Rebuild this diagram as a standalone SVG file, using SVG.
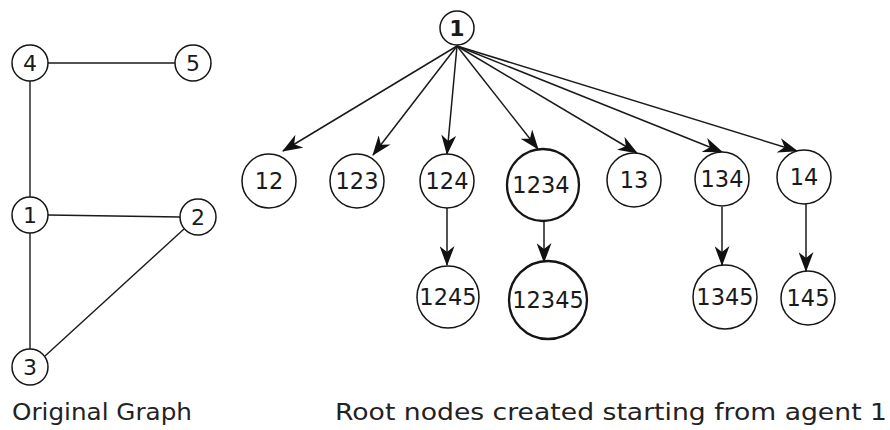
<svg xmlns="http://www.w3.org/2000/svg" width="890" height="430" viewBox="0 0 890 430">
  <style>
    .node circle { fill: #ffffff; stroke: #151515; stroke-width: 1.5; }
    .node.big circle { stroke-width: 2.3; }
    .node text { font-family: "DejaVu Sans", "Liberation Sans", sans-serif; font-size: 22.5px; fill: #1a1a1a; text-anchor: middle; }
    .node.small text { font-size: 22px; }
    .edge { stroke: #1a1a1a; stroke-width: 1.4; fill: none; }
    .arrow { stroke: #1a1a1a; stroke-width: 1.5; fill: none; marker-end: url(#dart); }
    .caption { font-family: "DejaVu Sans", "Liberation Sans", sans-serif; font-size: 22.5px; fill: #222222; }
  </style>
  <defs>
    <marker id="dart" viewBox="0 0 20 15" refX="19" refY="7.5" markerWidth="20" markerHeight="15" markerUnits="userSpaceOnUse" orient="auto">
      <path d="M0,0 L20,7.5 L0,15 L6,7.5 Z" fill="#111111"/>
    </marker>
  </defs>
  <rect width="890" height="430" fill="#ffffff"/>

  <!-- Original graph: undirected edges -->
  <g id="graph-edges">
    <line class="edge" x1="48" y1="63" x2="175" y2="63"/>
    <line class="edge" x1="30" y1="81" x2="30" y2="197"/>
    <line class="edge" x1="48" y1="215" x2="180" y2="217"/>
    <line class="edge" x1="30" y1="233" x2="30" y2="349"/>
    <line class="edge" x1="184" y1="229" x2="45" y2="356"/>
  </g>
  <g id="g4" class="node small"><circle cx="30" cy="63" r="18"/><text x="30" y="71">4</text></g>
  <g id="g5" class="node small"><circle cx="193" cy="63" r="18"/><text x="193" y="71">5</text></g>
  <g id="g1" class="node small"><circle cx="30" cy="215" r="18"/><text x="30" y="223">1</text></g>
  <g id="g2" class="node small"><circle cx="198" cy="217" r="18"/><text x="198" y="225">2</text></g>
  <g id="g3" class="node small"><circle cx="30" cy="367" r="18"/><text x="30" y="375">3</text></g>

  <!-- Root-node tree: directed edges -->
  <g id="tree-edges">
    <line class="arrow" x1="457" y1="46" x2="283" y2="151"/>
    <line class="arrow" x1="457" y1="46" x2="373" y2="155"/>
    <line class="arrow" x1="457" y1="46" x2="447" y2="154"/>
    <line class="arrow" x1="457" y1="46" x2="538" y2="149"/>
    <line class="arrow" x1="457" y1="46" x2="637" y2="153"/>
    <line class="arrow" x1="457" y1="46" x2="722" y2="152"/>
    <line class="arrow" x1="457" y1="46" x2="797" y2="151"/>
    <line class="arrow" x1="447" y1="208" x2="447" y2="265"/>
    <line class="arrow" x1="544" y1="222" x2="544" y2="262"/>
    <line class="arrow" x1="722" y1="207" x2="722" y2="265"/>
    <line class="arrow" x1="806" y1="204" x2="806" y2="271"/>
  </g>

  <g id="t1" class="node small"><circle cx="457" cy="28" r="17"/><text x="457" y="36" font-weight="600">1</text></g>
  <g id="t12" class="node"><circle cx="269" cy="181" r="27"/><text x="269" y="189">12</text></g>
  <g id="t123" class="node"><circle cx="357" cy="181" r="27"/><text x="357" y="189">123</text></g>
  <g id="t124" class="node"><circle cx="447" cy="181" r="27"/><text x="447" y="189">124</text></g>
  <g id="t1234" class="node big"><circle cx="543" cy="185" r="36"/><text x="541" y="193">1234</text></g>
  <g id="t13" class="node"><circle cx="634" cy="180" r="27"/><text x="634" y="188">13</text></g>
  <g id="t134" class="node"><circle cx="722" cy="179" r="27"/><text x="722" y="187">134</text></g>
  <g id="t14" class="node"><circle cx="804" cy="177" r="27"/><text x="804" y="185">14</text></g>
  <g id="t1245" class="node"><circle cx="448" cy="297" r="31"/><text x="448" y="305">1245</text></g>
  <g id="t12345" class="node big"><circle cx="548" cy="300" r="39"/><text x="548" y="308">12345</text></g>
  <g id="t1345" class="node"><circle cx="725" cy="297" r="32"/><text x="725" y="305">1345</text></g>
  <g id="t145" class="node"><circle cx="808" cy="298" r="27"/><text x="808" y="306">145</text></g>

  <text class="caption" x="12" y="420" textLength="180" lengthAdjust="spacingAndGlyphs">Original Graph</text>
  <text class="caption" x="335" y="420" textLength="552" lengthAdjust="spacingAndGlyphs">Root nodes created starting from agent 1</text>
</svg>
